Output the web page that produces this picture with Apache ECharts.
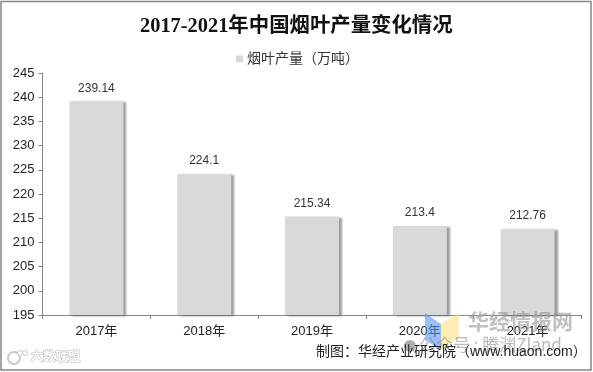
<!DOCTYPE html>
<html><head><meta charset="utf-8">
<style>html,body{margin:0;padding:0;background:#fff}#c{width:593px;height:372px}</style>
<script src="https://cdn.jsdelivr.net/npm/echarts@6/dist/echarts.min.js"></script>
</head><body><div id="c"></div>
<script>
const categories = ['2017年','2018年','2019年','2020年','2021年'];
const values = [239.14,224.1,215.34,213.4,212.76];
const labels = ['239.14','224.1','215.34','213.4','212.76'];
const seriesName = '烟叶产量\uFF08万吨\uFF09';
const titleText = '2017-2021年中国烟叶产量变化情况';
const sourceText = '制图\uFF1A华经产业研究院\uFF08www.huaon.com\uFF09';
const sans = '"Liberation Sans","Noto Sans CJK SC",sans-serif';
const chart = echarts.init(document.getElementById('c'), null, {renderer:'canvas'});
chart.setOption({
  animation:false,
  backgroundColor:'#fff',
  title:{text:titleText,left:135,top:12,textStyle:{fontFamily:'"Liberation Serif","Noto Sans CJK SC",serif',fontWeight:'bold',fontSize:20.4,color:'#111'}},
  legend:{top:47,left:231,itemWidth:7,itemHeight:7,itemGap:4,icon:'rect',textStyle:{fontFamily:sans,fontSize:14,color:'#333',padding:[0,0,0,-1]}},
  grid:{left:42.5,right:11.5,top:73,bottom:57,containLabel:false},
  xAxis:{type:'category',data:categories,axisLine:{lineStyle:{color:'#868686'}},
    axisTick:{show:true,alignWithLabel:false,length:4,lineStyle:{color:'#868686'}},
    axisLabel:{fontFamily:sans,fontSize:13,color:'#222',margin:10}},
  yAxis:{type:'value',min:195,max:245,interval:5,splitLine:{show:false},
    axisLine:{show:true,lineStyle:{color:'#868686'}},axisTick:{show:true,length:4,lineStyle:{color:'#868686'}},
    axisLabel:{fontFamily:sans,fontSize:13,color:'#222',margin:8}},
  series:[{name:seriesName,type:'bar',data:values,barWidth:54,
    itemStyle:{color:'#d9d9d9',shadowColor:'rgba(90,90,90,0.6)',shadowBlur:2,shadowOffsetX:3,shadowOffsetY:1},
    label:{show:true,position:'top',distance:7,fontFamily:sans,fontSize:12,color:'#333',
      formatter:p=>labels[p.dataIndex]}}],
  graphic:[
    {type:'rect',silent:true,shape:{x:1,y:1.5,width:590,height:368.5},style:{fill:'none',stroke:'#868686',lineWidth:1.5},z:50},
    {type:'polygon',shape:{points:[[425,313],[441,324],[441,350],[425,340]]},style:{fill:'rgba(90,150,240,0.6)'},z:40},
    {type:'polygon',shape:{points:[[441,324],[459,313],[459,338],[441,350]]},style:{fill:'rgba(250,225,130,0.6)'},z:40},
    {type:'text',left:468,top:311,style:{text:'华经情报网',font:'bold 21px "Noto Sans CJK SC"',fill:'rgba(150,150,150,0.6)'},z:41},
    {type:'circle',shape:{cx:410,cy:346,r:6},style:{fill:'rgba(120,120,120,0.6)'},z:41},
    {type:'text',left:419,top:336,style:{text:'公众号 : 腾渊Zland',font:'17px "Noto Sans CJK SC"',fill:'rgba(130,130,130,0.55)'},z:41},
    {type:'text',left:316,top:345,style:{text:sourceText,font:'14px "Liberation Sans","Noto Sans CJK SC"',fill:'#222'},z:42},
    {type:'text',left:30,top:349,style:{text:'六数联盟',font:'bold 12.5px "Noto Sans CJK SC"',fill:'#fff',stroke:'#bbb',lineWidth:1},z:41},
    {type:'circle',shape:{cx:14,cy:358,r:6},style:{fill:'none',stroke:'#c8c8c8',lineWidth:2},z:41},
    {type:'circle',shape:{cx:20,cy:353,r:2.5},style:{fill:'#fff',stroke:'#c8c8c8',lineWidth:1},z:41},
    {type:'circle',shape:{cx:25,cy:353,r:2.5},style:{fill:'#fff',stroke:'#c8c8c8',lineWidth:1},z:41}
  ]
});
</script></body></html>
